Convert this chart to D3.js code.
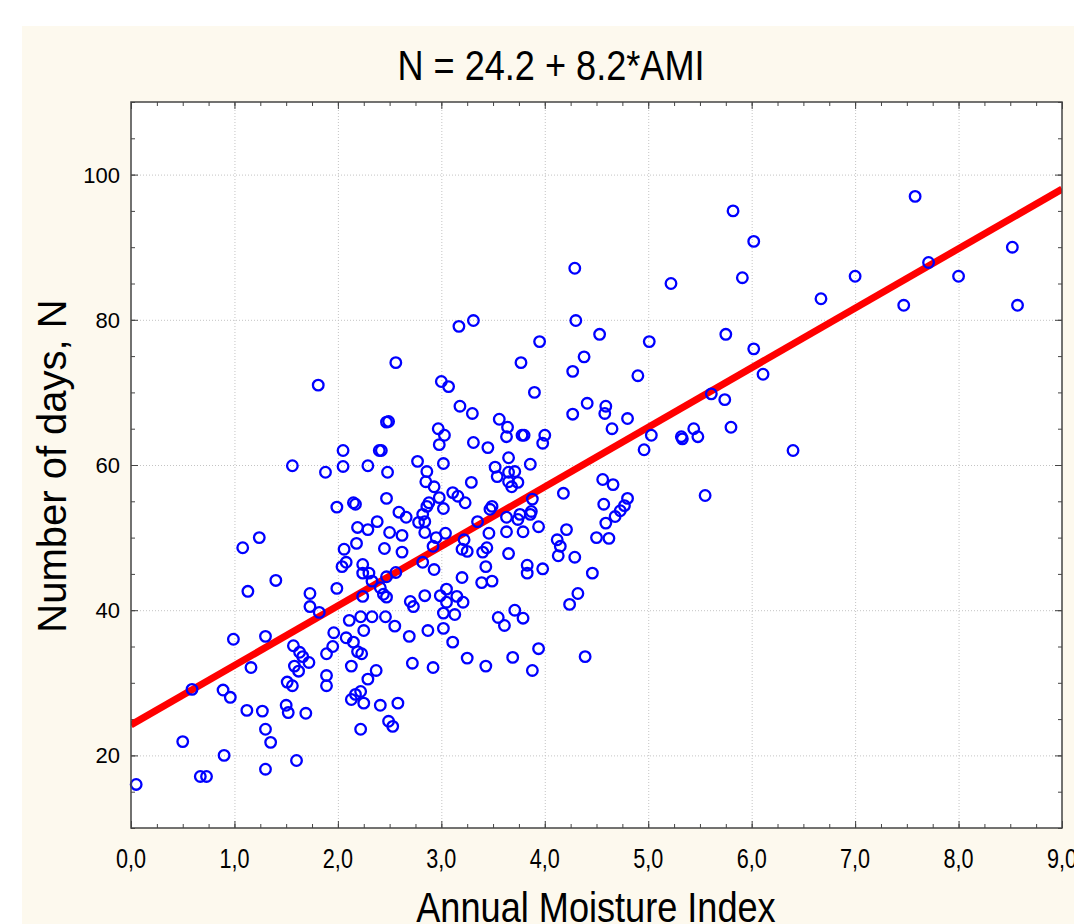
<!DOCTYPE html>
<html>
<head>
<meta charset="utf-8">
<title>N vs AMI</title>
<script src="https://cdnjs.cloudflare.com/ajax/libs/d3/7.8.5/d3.min.js"></script>
<style>
  body { margin: 0; background: #fff; }
  .narrow { font-family: "Liberation Sans Narrow", "Arial Narrow", "Liberation Sans", sans-serif; }
  .wide { font-family: "Liberation Sans", Arial, sans-serif; }
  .grid line { stroke: #c4c4c4; stroke-dasharray: 1,2; }
  .grid path { display: none; }
  .ax path { display: none; }
  .ax line { stroke: #444; }
</style>
</head>
<body>
<svg id="chart" width="1074" height="924"></svg>
<script>
// Annual Moisture Index (x) and number of days N (y)
var ami = [
  0.05,0.50,0.59,0.67,0.73,0.89,0.90,0.96,0.99,1.08,
  1.12,1.13,1.16,1.24,1.27,1.30,1.30,1.30,1.35,1.40,
  1.50,1.52,1.51,1.56,1.56,1.57,1.60,1.58,1.62,1.63,
  1.66,1.72,1.69,1.73,1.73,1.82,1.81,1.88,1.89,1.89,
  1.89,1.99,2.05,2.05,2.15,2.17,2.18,2.06,2.19,2.29,
  2.38,2.29,2.40,2.42,2.47,2.49,2.48,2.47,2.45,2.50,
  2.56,2.59,2.62,2.62,2.66,2.77,2.78,2.84,2.82,2.84,
  2.86,2.85,2.93,2.88,2.86,2.92,2.95,3.04,2.98,3.02,
  3.00,3.07,2.97,3.03,2.98,3.02,3.11,3.16,3.18,2.04,
  2.08,2.24,2.24,2.30,2.33,1.99,2.24,2.41,2.44,2.47,
  2.56,2.47,2.70,2.73,2.84,2.93,2.82,2.99,3.05,3.05,
  3.13,3.02,3.15,2.11,2.22,2.33,2.46,2.55,2.25,1.96,
  2.08,2.15,2.19,2.23,1.95,2.69,2.87,3.02,3.11,2.13,
  2.37,2.29,2.72,2.92,2.13,2.17,2.22,2.25,2.41,2.58,
  2.49,2.53,2.22,3.95,3.77,4.38,4.27,3.90,4.41,4.27,
  3.30,3.56,3.64,3.63,3.78,3.80,4.00,3.98,3.31,3.45,
  3.65,3.52,3.54,3.65,3.71,3.65,3.74,3.68,3.86,3.29,
  4.18,3.23,3.49,3.47,3.88,3.87,3.86,3.76,3.63,3.74,
  3.35,3.46,3.63,3.79,3.94,4.21,4.12,4.15,3.22,3.20,
  3.25,3.44,3.40,3.65,4.29,3.43,3.83,3.83,3.98,4.13,
  3.20,3.39,3.49,3.21,4.32,4.24,3.55,3.61,3.71,3.79,
  3.94,3.69,3.88,3.25,3.43,4.39,3.17,3.31,4.29,4.30,
  4.53,5.01,5.75,6.02,4.90,6.11,4.59,4.58,4.80,4.65,
  5.61,5.74,5.80,5.03,4.96,5.32,5.33,5.44,5.48,6.40,
  4.56,4.66,4.80,5.55,5.22,5.91,6.02,5.82,6.67,7.00,
  7.47,7.58,7.71,8.00,8.52,8.57,4.57,4.59,4.62,4.68,
  4.73,4.77,4.50,4.46
];
var days = [
  16.0,21.9,29.1,17.1,17.1,29.0,20.0,28.0,36.0,48.6,
  26.2,42.6,32.1,50.0,26.1,18.1,23.6,36.4,21.8,44.1,
  26.9,25.9,30.1,29.6,59.9,35.1,19.3,32.3,31.6,34.2,
  33.6,32.8,25.8,42.3,40.5,39.7,71.0,59.0,34.0,31.0,
  29.6,54.2,62.0,59.8,54.8,54.6,49.2,48.4,51.4,51.1,
  52.2,59.9,62.0,62.0,65.9,66.0,59.0,55.4,48.5,50.7,
  74.1,53.5,50.3,48.0,52.8,60.5,52.1,52.2,53.2,50.7,
  59.1,57.7,57.0,54.8,54.3,48.8,50.0,50.6,55.5,54.0,
  71.5,70.8,65.0,64.1,62.8,60.2,56.2,55.7,68.1,46.0,
  46.6,46.3,45.1,45.1,44.0,43.0,41.9,43.1,42.2,41.8,
  45.2,44.6,41.2,40.5,42.0,45.6,46.6,42.0,42.9,41.1,
  39.4,39.6,41.9,38.6,39.1,39.1,39.1,37.8,37.2,36.9,
  36.2,35.6,34.3,34.0,35.0,36.4,37.2,37.5,35.6,32.3,
  31.7,30.5,32.7,32.1,27.7,28.4,28.8,27.2,26.9,27.2,
  24.7,24.0,23.6,77.0,74.1,74.9,72.9,70.0,68.5,67.0,
  67.1,66.3,65.2,63.9,64.1,64.1,64.1,63.0,63.1,62.4,
  61.0,59.7,58.4,59.0,59.1,57.7,57.6,57.0,60.1,57.6,
  56.1,54.8,54.3,53.9,55.3,53.6,53.2,53.2,52.8,52.5,
  52.2,50.6,50.8,50.8,51.5,51.1,49.7,48.8,49.7,48.4,
  48.1,48.6,48.0,47.8,47.3,46.0,46.2,45.1,45.7,47.5,
  44.5,43.8,44.0,41.1,42.3,40.8,39.0,37.9,40.0,38.9,
  34.7,33.5,31.7,33.4,32.3,33.6,79.1,79.9,87.1,79.9,
  78.0,77.0,78.0,76.0,72.3,72.5,68.1,67.1,66.4,65.0,
  69.8,69.0,65.2,64.1,62.1,63.9,63.6,65.0,63.9,62.0,
  58.0,57.3,55.4,55.8,85.0,85.8,90.8,95.0,82.9,86.0,
  82.0,97.0,87.9,86.0,90.0,82.0,54.6,52.0,49.9,52.9,
  53.7,54.4,50.0,45.1
];

var xTicks = [0,1,2,3,4,5,6,7,8,9];
var yTicks = [20,40,60,80,100];
var fitIntercept = 24.2, fitSlope = 8.2;
var titleText = "N = 24.2 + 8.2*AMI";

var svg = d3.select("#chart");
var margin = {top: 102, right: 12, bottom: 96, left: 131};
var width = 1074 - margin.left - margin.right,
    height = 924 - margin.top - margin.bottom;

// squeeze text horizontally to look like Arial Narrow
function condense(sel, k) {
  sel.each(function() {
    var w = this.getComputedTextLength();
    d3.select(this).attr("textLength", w * k).attr("lengthAdjust", "spacingAndGlyphs");
  });
}

// cream panel behind everything
svg.append("rect").attr("x", 22).attr("y", 26).attr("width", 1052).attr("height", 898)
  .attr("fill", "#fdf9ee");

var x = d3.scaleLinear().domain([0, 9]).range([0, width]);
var y = d3.scaleLinear().domain([10, 110]).range([height, 0]);

var g = svg.append("g").attr("transform", "translate(" + margin.left + "," + margin.top + ")");

g.append("rect").attr("width", width).attr("height", height).attr("fill", "#fff");

g.append("defs").append("clipPath").attr("id", "clip")
  .append("rect").attr("width", width).attr("height", height);

// dotted grid
g.append("g").attr("class", "grid")
  .attr("transform", "translate(0," + height + ")")
  .call(d3.axisBottom(x).tickValues(xTicks.slice(1, -1)).tickSize(-height).tickFormat(""));
g.append("g").attr("class", "grid")
  .call(d3.axisLeft(y).tickValues(yTicks).tickSize(-width).tickFormat(""));

// inward ticks on all four sides
var xMinor = d3.range(0, 9.01, 0.25), yMinor = d3.range(10, 110.1, 5);
function ticks(axisFn, scale, vals, size, tr) {
  g.append("g").attr("class", "ax").attr("transform", tr || null)
    .call(axisFn(scale).tickValues(vals).tickSize(size).tickFormat(""));
}
ticks(d3.axisBottom, x, xMinor, -4, "translate(0," + height + ")");
ticks(d3.axisBottom, x, xTicks, -7, "translate(0," + height + ")");
ticks(d3.axisTop, x, xMinor, -4);
ticks(d3.axisTop, x, xTicks, -7);
ticks(d3.axisLeft, y, yMinor, -4);
ticks(d3.axisLeft, y, yTicks, -7);
ticks(d3.axisRight, y, yMinor, -4, "translate(" + width + ",0)");
ticks(d3.axisRight, y, yTicks, -7, "translate(" + width + ",0)");

// tick labels
g.append("g").selectAll("text").data(xTicks).join("text")
  .attr("class", "narrow")
  .attr("x", function(d) { return x(d); }).attr("y", height + 40)
  .attr("text-anchor", "middle").attr("font-size", 27).attr("fill", "#000")
  .text(function(d) { return d.toFixed(1).replace(".", ","); })
  .call(condense, 0.8);
g.append("g").selectAll("text").data(yTicks).join("text")
  .attr("class", "wide")
  .attr("x", -11).attr("y", function(d) { return y(d); }).attr("dy", "0.36em")
  .attr("text-anchor", "end").attr("font-size", 22).attr("fill", "#000")
  .text(function(d) { return d; });

// regression line
var fit = d3.line().x(function(d) { return x(d); })
  .y(function(d) { return y(fitIntercept + fitSlope * d); });
g.append("path").datum([0, 9]).attr("clip-path", "url(#clip)")
  .attr("d", fit).attr("fill", "none").attr("stroke", "#ff0000").attr("stroke-width", 7);

// points
g.append("g").selectAll("circle").data(ami).join("circle")
  .attr("cx", function(d) { return x(d); })
  .attr("cy", function(d, i) { return y(days[i]); })
  .attr("r", 5.3).attr("fill", "none").attr("stroke", "#0000ff").attr("stroke-width", 2.3);

// frame
g.append("rect").attr("width", width).attr("height", height)
  .attr("fill", "none").attr("stroke", "#444").attr("stroke-width", 1.5);

// titles
svg.append("text").attr("class", "narrow").attr("x", 551).attr("y", 80)
  .attr("text-anchor", "middle").attr("font-size", 42).text(titleText)
  .call(condense, 0.86);
svg.append("text").attr("class", "narrow").attr("x", 596).attr("y", 922)
  .attr("text-anchor", "middle").attr("font-size", 42).text("Annual Moisture Index")
  .call(condense, 0.86);
svg.append("text").attr("class", "wide")
  .attr("transform", "translate(66,466) rotate(-90)")
  .attr("text-anchor", "middle").attr("font-size", 40).text("Number of days, N");
</script>
</body>
</html>
